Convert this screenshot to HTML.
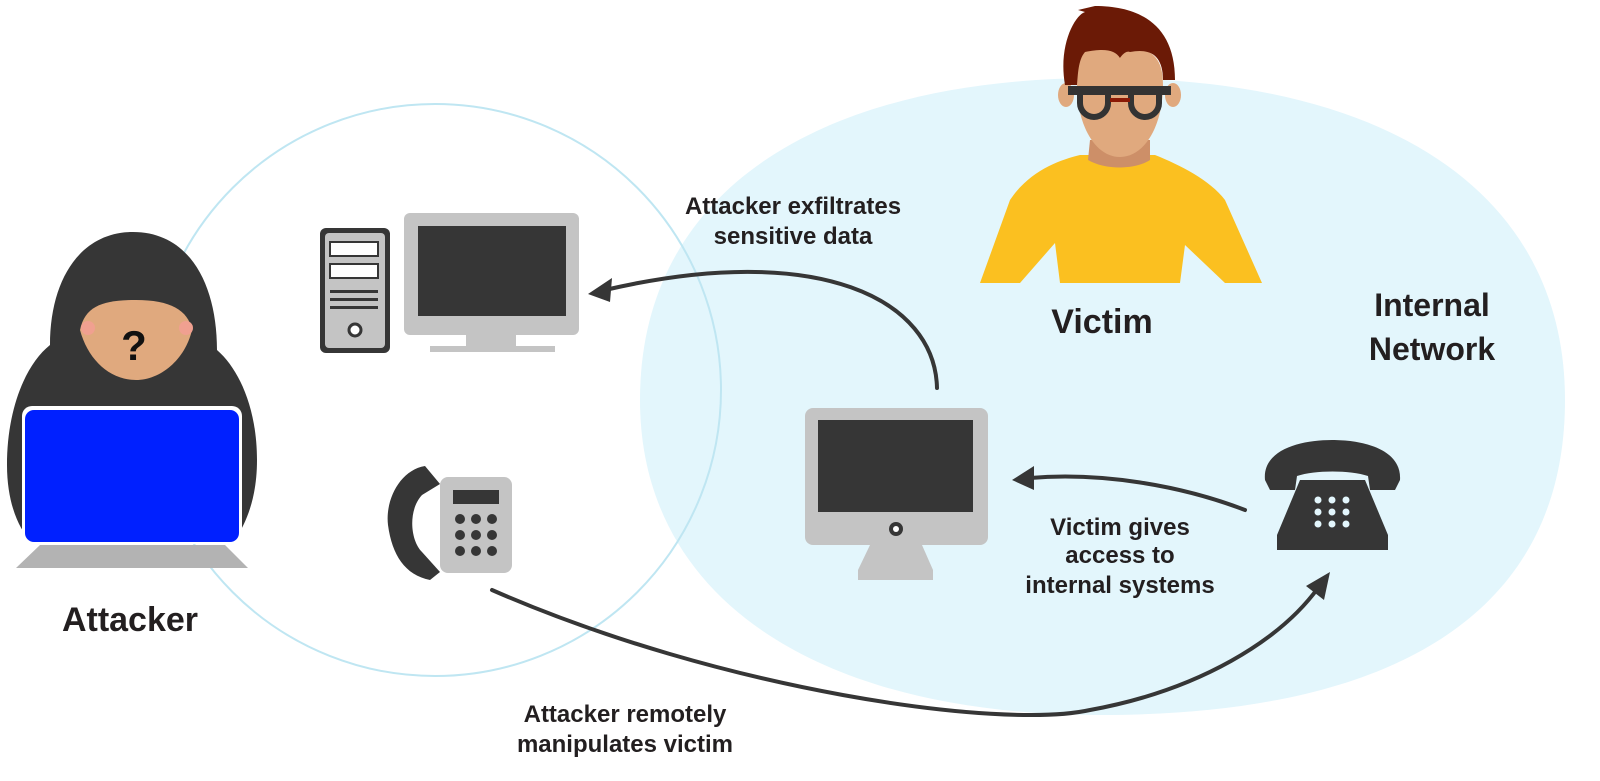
<!DOCTYPE html>
<html><head><meta charset="utf-8"><style>
html,body{margin:0;padding:0;background:#fff;}
svg{display:block;}
text{font-family:"Liberation Sans",sans-serif;font-weight:bold;fill:#231f20;text-anchor:middle;}
</style></head><body>
<svg width="1600" height="781" viewBox="0 0 1600 781" xmlns="http://www.w3.org/2000/svg">
<!-- blob -->
<path d="M1100,78 C1400,78 1565,200 1565,400 C1565,610 1400,715 1100,715 C820,715 640,600 640,400 C640,190 820,78 1100,78 Z" fill="#e3f6fc"/>
<!-- circle outline -->
<circle cx="435" cy="390" r="286" fill="none" stroke="#bfe6f2" stroke-width="2"/>

<!-- attacker -->
<g>
<path d="M133,232 C80,232 50,280 50,345 C25,365 7,410 7,465 C7,505 20,530 30,540 L235,540 C248,520 257,495 257,460 C257,410 240,370 217,350 C217,285 190,232 133,232 Z" fill="#363636"/>
<path d="M80,330 C85,305 105,300 136,300 C170,300 188,310 192,330 C185,360 160,380 136,380 C110,380 88,360 80,330 Z" fill="#e0a97e"/>
<circle cx="88" cy="328" r="7" fill="#f0a090"/><circle cx="186" cy="328" r="7" fill="#f0a090"/>
<text x="134" y="360" style="font-size:42px;fill:#111">?</text>
<rect x="22" y="406" width="220" height="138" rx="10" fill="#fff"/>
<rect x="25" y="410" width="214" height="132" rx="9" fill="#0020ff"/>
<polygon points="40,545 225,545 248,568 16,568" fill="#b3b3b3"/>
</g>

<!-- victim -->
<g>
<path d="M1010,200 C1030,170 1060,160 1080,155 L1155,155 C1180,165 1210,180 1225,200 L1262,283 L1225,283 L1185,245 L1180,283 L1060,283 L1055,243 L1020,283 L980,283 Z" fill="#fbc020"/>
<path d="M1090,140 L1150,140 L1150,160 C1135,170 1105,170 1088,160 Z" fill="#cd8f68"/>
<ellipse cx="1066" cy="95" rx="8" ry="12" fill="#e0a97e"/><ellipse cx="1173" cy="95" rx="8" ry="12" fill="#e0a97e"/>
<path d="M1077,60 C1077,45 1100,45 1120,47 C1150,47 1163,55 1163,85 C1163,125 1145,157 1120,157 C1095,157 1077,125 1077,85 Z" fill="#e0a97e"/>
<path d="M1065,85 C1058,45 1075,15 1085,12 L1078,10 L1095,6 C1140,6 1175,25 1175,80 L1163,80 C1163,55 1150,48 1130,52 C1125,50 1120,58 1120,58 C1115,50 1105,48 1085,52 C1078,60 1078,75 1077,85 Z" fill="#6b1a06"/>
<rect x="1068" y="86" width="103" height="9" fill="#333"/>
<path d="M1080,92 L1080,103 A14,14 0 0 0 1108,103 L1108,92" fill="none" stroke="#333" stroke-width="6"/>
<path d="M1131,92 L1131,103 A14,14 0 0 0 1159,103 L1159,92" fill="none" stroke="#333" stroke-width="6"/>
<rect x="1110" y="98" width="20" height="4" fill="#8b1a06"/>
</g>

<!-- tower -->
<rect x="320" y="228" width="70" height="125" rx="6" fill="#363636"/>
<rect x="325" y="233" width="60" height="115" rx="4" fill="#c4c4c4"/>
<rect x="330" y="242" width="48" height="14" fill="#fff" stroke="#363636" stroke-width="2"/>
<rect x="330" y="264" width="48" height="14" fill="#fff" stroke="#363636" stroke-width="2"/>
<rect x="330" y="290" width="48" height="3" fill="#363636"/>
<rect x="330" y="298" width="48" height="3" fill="#363636"/>
<rect x="330" y="306" width="48" height="3" fill="#363636"/>
<circle cx="355" cy="330" r="6" fill="#fff" stroke="#363636" stroke-width="3"/>
<!-- monitor top -->
<rect x="404" y="213" width="175" height="122" rx="6" fill="#c4c4c4"/>
<rect x="418" y="226" width="148" height="90" fill="#363636"/>
<rect x="466" y="335" width="50" height="12" fill="#c4c4c4"/>
<rect x="430" y="346" width="125" height="6" fill="#c4c4c4"/>

<!-- left phone -->
<rect x="440" y="477" width="72" height="96" rx="8" fill="#c4c4c4"/>
<rect x="453" y="490" width="46" height="14" fill="#363636"/>
<g fill="#363636">
<circle cx="460" cy="519" r="5"/><circle cx="476" cy="519" r="5"/><circle cx="492" cy="519" r="5"/>
<circle cx="460" cy="535" r="5"/><circle cx="476" cy="535" r="5"/><circle cx="492" cy="535" r="5"/>
<circle cx="460" cy="551" r="5"/><circle cx="476" cy="551" r="5"/><circle cx="492" cy="551" r="5"/>
</g>
<path d="M425,466 C400,470 385,500 388,525 C392,555 405,575 430,580 L440,572 L422,552 C410,540 408,510 422,495 L440,484 Z" fill="#363636"/>

<!-- center monitor -->
<rect x="805" y="408" width="183" height="137" rx="8" fill="#c4c4c4"/>
<rect x="818" y="420" width="155" height="92" fill="#363636"/>
<circle cx="896" cy="529" r="7" fill="#363636"/><circle cx="896" cy="529" r="3" fill="#fff"/>
<polygon points="870,545 922,545 933,570 858,570" fill="#c4c4c4"/>
<rect x="858" y="570" width="75" height="10" fill="#c4c4c4"/>

<!-- right phone -->
<path d="M1265,480 C1262,450 1300,440 1332,440 C1365,440 1402,450 1400,480 L1395,490 L1370,490 L1368,476 C1350,470 1315,470 1297,476 L1295,490 L1270,490 Z" fill="#363636"/>
<path d="M1300,480 L1365,480 L1388,535 L1388,550 L1277,550 L1277,535 Z" fill="#363636"/>
<g fill="#e3f6fc">
<circle cx="1318" cy="500" r="3.5"/><circle cx="1332" cy="500" r="3.5"/><circle cx="1346" cy="500" r="3.5"/>
<circle cx="1318" cy="512" r="3.5"/><circle cx="1332" cy="512" r="3.5"/><circle cx="1346" cy="512" r="3.5"/>
<circle cx="1318" cy="524" r="3.5"/><circle cx="1332" cy="524" r="3.5"/><circle cx="1346" cy="524" r="3.5"/>
</g>

<!-- arrows -->
<g fill="none" stroke="#363636" stroke-width="4" stroke-linecap="round">
<path d="M937,388 C935,300 820,240 605,290"/>
<path d="M1245,510 C1180,485 1100,472 1030,478"/>
<path d="M492,590 C720,690 1000,730 1090,710 C1200,690 1280,640 1318,588"/>
</g>
<g fill="#363636">
<polygon points="588,294 612,278 610,302"/>
<polygon points="1012,480 1034,466 1034,490"/>
<polygon points="1330,572 1306,586 1324,600"/>
</g>

<!-- labels -->
<text x="130" y="631" style="font-size:34px">Attacker</text>
<text x="1102" y="333" style="font-size:34px">Victim</text>
<text x="1432" y="316" style="font-size:32px">Internal</text>
<text x="1432" y="360" style="font-size:32px">Network</text>
<g style="font-size:24px">
<text x="793" y="214">Attacker exfiltrates</text>
<text x="793" y="244">sensitive data</text>
<text x="1120" y="535">Victim gives</text>
<text x="1120" y="563">access to</text>
<text x="1120" y="593">internal systems</text>
<text x="625" y="722">Attacker remotely</text>
<text x="625" y="752">manipulates victim</text>
</g>
</svg>
</body></html>
